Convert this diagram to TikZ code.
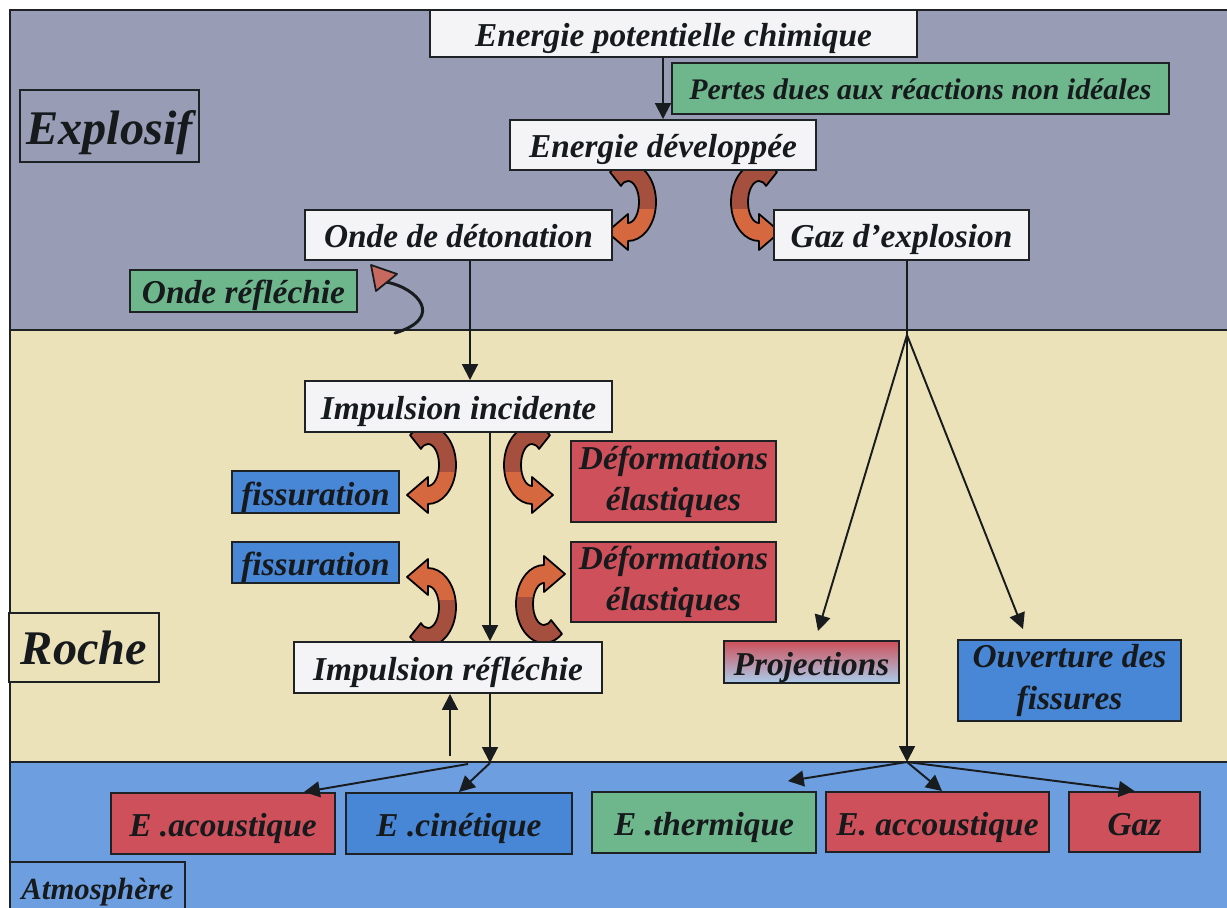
\documentclass[tikz,border=0pt]{standalone}
\usepackage{fontspec}
\setmainfont{Liberation Serif}
\usetikzlibrary{arrows.meta}
\definecolor{explcol}{RGB}{152,156,180}
\definecolor{rochecol}{RGB}{236,226,186}
\definecolor{atmcol}{RGB}{108,158,224}
\definecolor{whitebox}{RGB}{244,244,246}
\definecolor{greenbox}{RGB}{110,182,140}
\definecolor{redbox}{RGB}{206,80,90}
\definecolor{bluebox}{RGB}{72,134,214}
\definecolor{projblue}{RGB}{170,205,235}
\definecolor{arrbrown}{RGB}{165,80,62}
\definecolor{arrorange}{RGB}{214,104,64}
\definecolor{headred}{RGB}{200,105,95}
\definecolor{textcol}{RGB}{22,26,28}
\definecolor{bordercol}{RGB}{30,34,36}
\definecolor{linecol}{RGB}{25,28,30}
\pgfdeclarelayer{bg}
\pgfdeclarelayer{mid}
\pgfsetlayers{bg,mid,main}
\tikzset{
  nbase/.style={draw=bordercol, line width=1.1pt, inner sep=0pt, text=textcol,
    font=\bfseries\itshape\fontsize{19}{23.5}\selectfont, align=center},
  sl/.style={text height=#1, text depth=1pt},
  sl/.default=15.8pt,
  wbox/.style={nbase, fill=whitebox},
  gbox/.style={nbase, fill=greenbox},
  rbox/.style={nbase, fill=redbox},
  bbox/.style={nbase, fill=bluebox},
  bw/.style={minimum width=#1*0.02cm},
  bh/.style={minimum height=#1*0.02cm},
  arr/.style={draw=linecol, line width=1.1pt, -{Triangle[length=9pt,width=9pt]}},
  ribbon/.style={insert path={(-130:28 and 39) arc[start angle=-130,end angle=90,x radius=28,y radius=39]
      -- (0,48) -- (-21,30) -- (0,12) -- (0,21)
      arc[start angle=90,end angle=-130,x radius=11,y radius=21] -- cycle}}
}
\newcommand\ribbonarrow[2]{%
  \begin{scope}[shift={#1},#2]
    \fill[arrbrown, ribbon];
    \begin{scope}
      \clip (-45,8) rectangle (45,60);
      \fill[arrorange, ribbon];
    \end{scope}
    \draw[black, line width=1pt, line join=round, ribbon];
  \end{scope}}
\begin{document}
\begin{tikzpicture}[x=0.02cm, y=-0.02cm]
\useasboundingbox (0,0) rectangle (1227,908);
% bands
\begin{pgfonlayer}{bg}
  \fill[white] (0,0) rectangle (1227,908);
  \fill[explcol] (10,10) rectangle (1227,330);
  \fill[rochecol] (10,330) rectangle (1227,762);
  \fill[atmcol] (10,762) rectangle (1227,908);
  \draw[bordercol, line width=1.2pt] (10,908) -- (10,10) -- (1227,10);
  \draw[bordercol, line width=1.2pt] (10,330) -- (1227,330);
  \draw[bordercol, line width=1.2pt] (10,762) -- (1227,762);
\end{pgfonlayer}
% curved ribbon arrows
\begin{pgfonlayer}{mid}
  \ribbonarrow{(628,202)}{}
  \ribbonarrow{(759,202)}{xscale=-1}
  \ribbonarrow{(428,465)}{}
  \ribbonarrow{(532,465)}{xscale=-1}
  \ribbonarrow{(428,607)}{yscale=-1}
  \ribbonarrow{(544,604)}{xscale=-1,yscale=-1}
\end{pgfonlayer}
% nodes
\node[wbox,sl,bw=487,bh=47] (epc) at (673.5,33.5) {Energie potentielle chimique};
\node[gbox,sl=14pt,bw=497,bh=51,font=\bfseries\itshape\fontsize{17}{20}\selectfont] (pertes) at (920.5,88.5) {Pertes dues aux réactions non idéales};
\node[wbox,sl,bw=306,bh=50] (ed) at (663,145) {Energie développée};
\node[wbox,sl,bw=307,bh=50] (odd) at (458.5,235) {Onde de détonation};
\node[wbox,sl,bw=255,bh=50] (gaz) at (901.5,235) {Gaz d’explosion};
\node[gbox,sl,bw=227,bh=42] (orefl) at (243.5,291) {Onde réfléchie};
\node[nbase,sl=22.6pt,fill=explcol,bw=179,bh=72,font=\bfseries\itshape\fontsize{27.5}{30}\selectfont] (lexpl) at (109.5,126) {Explosif};
\node[wbox,sl,bw=307,bh=51] (ii) at (458.5,406.5) {Impulsion incidente};
\node[bbox,sl,bw=167,bh=42] (fis1) at (315.5,492) {fissuration};
\node[bbox,sl,bw=167,bh=41] (fis2) at (315.5,562.5) {fissuration};
\node[rbox,bw=205,bh=81] (def1) at (673.5,481.5) {Déformations\\élastiques};
\node[rbox,bw=205,bh=80] (def2) at (673.5,582) {Déformations\\élastiques};
\node[wbox,sl,bw=308,bh=51] (ir) at (448,667.5) {Impulsion réfléchie};
\node[nbase,sl=20pt,fill=rochecol,bw=150,bh=69,font=\bfseries\itshape\fontsize{27.5}{30}\selectfont] (lroche) at (84,647.5) {Roche};
\node[nbase,sl,top color=redbox,middle color=projblue!60!redbox,bottom color=projblue,bw=175,bh=42] (proj) at (811.5,662) {Projections};
\node[bbox,bw=223,bh=81] (ouv) at (1069.5,680.5) {Ouverture des\\fissures};
\node[rbox,sl,bw=224,bh=61] (eac) at (223,823.5) {E .acoustique};
\node[bbox,sl,bw=226,bh=61] (ecin) at (459,823.5) {E .cinétique};
\node[gbox,sl,bw=224,bh=61] (eth) at (704,822.5) {E .thermique};
\node[rbox,sl,bw=223,bh=60] (eacc) at (937.5,822) {E. accoustique};
\node[rbox,sl,bw=131,bh=60] (gazb) at (1134.5,822) {Gaz};
\node[nbase,sl=14.6pt,fill=atmcol,bw=175,bh=52,font=\bfseries\itshape\fontsize{17.5}{19}\selectfont] (latm) at (97.5,888) {Atmosphère};
% helper coordinates
\coordinate (xa) at (470,0);
\coordinate (xb) at (490,0);
\coordinate (sL) at (490,763);
\coordinate (sL1) at (468,764);
\coordinate (upL) at (450,756);
\coordinate (fan) at (907,335);
\coordinate (sR) at (907,762);
\coordinate (rwA) at (395,333);
\coordinate (rwB) at (386,282);
% connectors
\draw[arr] (ed.north |- epc.south) -- (ed.north);
\draw[arr] (xa |- odd.south) -- (xa |- ii.north);
\draw[arr] (xb |- ii.south) -- (xb |- ir.north);
\draw[arr] (xb |- ir.south) -- (sL);
\draw[arr] (sL1) -- ([xshift=1.62cm]eac.north);
\draw[arr] (sL) -- (ecin.north);
\draw[arr] (upL) -- (upL |- ir.south);
\draw[draw=linecol, line width=1.1pt] (fan |- gaz.south) -- (fan);
\draw[arr] (fan) -- ([xshift=0.13cm,yshift=0.18cm]proj.north);
\draw[arr] (fan) -- ([xshift=-0.93cm,yshift=0.2cm]ouv.north);
\draw[arr] (fan) -- (sR);
\draw[arr] (sR) -- ([xshift=1.68cm,yshift=0.2cm]eth.north);
\draw[arr] (sR) -- ([xshift=0.09cm]eacc.north);
\draw[arr] (sR) -- (gazb.north);
% reflected wave curved arrow
\draw[draw=linecol, line width=1.7pt, line cap=round]
  (rwA) .. controls (445,318) and (418,288) .. (rwB);
\draw[draw=linecol, line width=1pt, fill=headred, line join=round]
  (371,265) -- (376,291) -- (397,274) -- cycle;
\end{tikzpicture}
\end{document}
